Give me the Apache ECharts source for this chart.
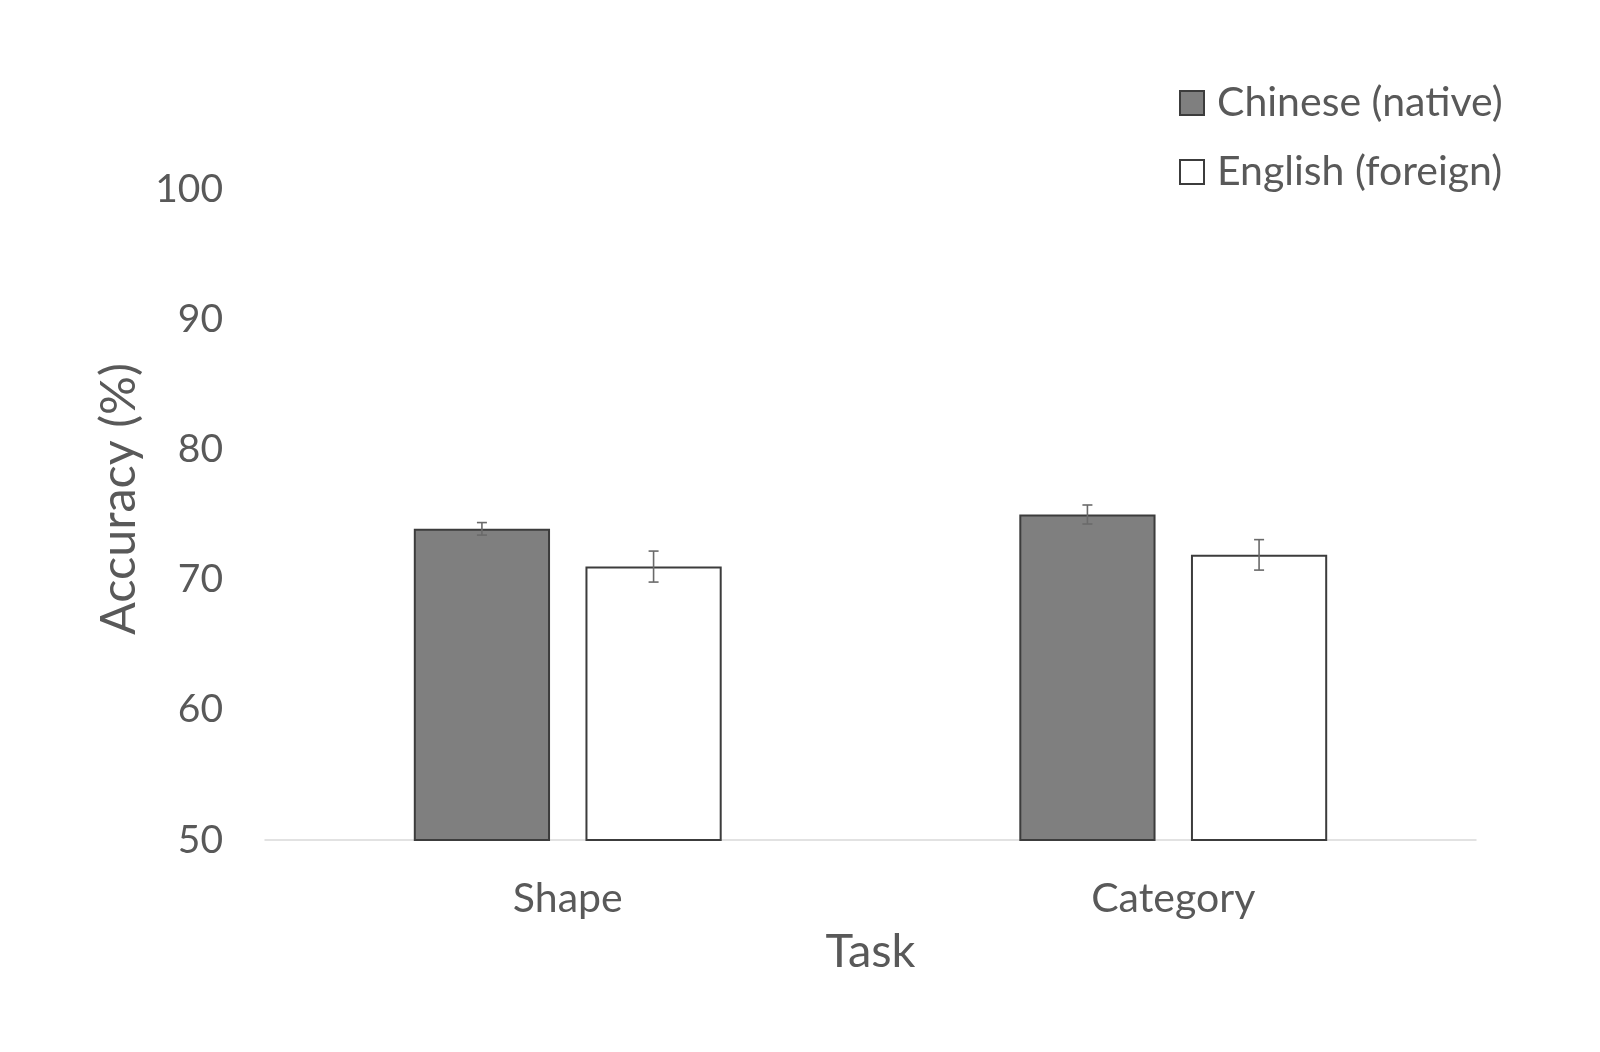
<!DOCTYPE html>
<html>
<head>
<meta charset="utf-8">
<script src="https://cdn.jsdelivr.net/npm/echarts@6/dist/echarts.min.js"></script>
<style>html,body{margin:0;padding:0;background:#fff;}#c{width:1600px;height:1052px;}</style>
</head>
<body>
<div id="c"></div>
<script>
const categories = ['Shape', 'Category'];
const seriesNames = ['Chinese (native)', 'English (foreign)'];
const chineseValues = [73.9, 75.0];
const englishValues = [71.0, 71.9];
const chineseErrors = [0.48, 0.73];
const englishErrors = [1.19, 1.17];
const yTicks = [50, 60, 70, 80, 90, 100];

const BAR_W = 0.225, BAR_GAP = 0.26;
const FONT = 'Lato, "Open Sans", sans-serif';
const TXT = '#595959';

function errSeries(vals, errs, sign) {
  return {
    type: 'custom',
    silent: true,
    z: 5,
    data: vals.map((v, i) => [i, v, errs[i]]),
    renderItem: function (params, api) {
      const i = api.value(0), v = api.value(1), e = api.value(2);
      const band = api.size([1, 0])[0];
      const bw = band * BAR_W;
      const off = sign * (bw + bw * BAR_GAP) / 2;
      const top = api.coord([i, v + e]);
      const bot = api.coord([i, v - e]);
      const x = top[0] + off;
      const cap = 5;
      const st = { stroke: '#6a6a6a', lineWidth: 1.6 };
      return {
        type: 'group',
        children: [
          { type: 'line', shape: { x1: x, y1: top[1], x2: x, y2: bot[1] }, style: st },
          { type: 'line', shape: { x1: x - cap, y1: top[1], x2: x + cap, y2: top[1] }, style: st },
          { type: 'line', shape: { x1: x - cap, y1: bot[1], x2: x + cap, y2: bot[1] }, style: st }
        ]
      };
    }
  };
}

const chart = echarts.init(document.getElementById('c'));
chart.setOption({
  animation: false,
  backgroundColor: '#ffffff',
  textStyle: { fontFamily: FONT },
  grid: { left: 265, right: 124, top: 189, bottom: 212 },
  legend: {
    orient: 'vertical',
    left: 1174,
    top: 76,
    itemWidth: 24,
    itemHeight: 24,
    itemGap: 25,
    icon: 'rect',
    data: seriesNames,
    textStyle: { fontFamily: FONT, fontSize: 41, color: TXT, lineHeight: 44, padding: [0, 0, 0, 8] }
  },
  xAxis: {
    type: 'category',
    data: categories,
    name: 'Task',
    nameLocation: 'middle',
    nameGap: 88,
    nameTextStyle: { fontFamily: FONT, fontSize: 47, color: TXT },
    axisLine: { lineStyle: { color: '#d9d9d9', width: 1.5 } },
    axisTick: { show: false },
    axisLabel: { fontFamily: FONT, fontSize: 41, color: TXT, margin: 38 }
  },
  yAxis: {
    type: 'value',
    min: yTicks[0],
    max: yTicks[yTicks.length - 1],
    interval: 10,
    name: 'Accuracy (%)',
    nameLocation: 'middle',
    nameGap: 118,
    nameTextStyle: { fontFamily: FONT, fontSize: 48.5, color: TXT, padding: [0, 0, 0, 31] },
    axisLine: { show: false },
    axisTick: { show: false },
    splitLine: { show: false },
    axisLabel: { fontFamily: FONT, fontSize: 39, color: TXT, margin: 42 }
  },
  series: [
    {
      name: seriesNames[0],
      type: 'bar',
      data: chineseValues,
      barWidth: (BAR_W * 100) + '%',
      barGap: (BAR_GAP * 100) + '%',
      itemStyle: { color: '#7f7f7f', borderColor: '#3c3c3c', borderWidth: 2 }
    },
    {
      name: seriesNames[1],
      type: 'bar',
      data: englishValues,
      barWidth: (BAR_W * 100) + '%',
      barGap: (BAR_GAP * 100) + '%',
      itemStyle: { color: '#ffffff', borderColor: '#3c3c3c', borderWidth: 2 }
    },
    errSeries(chineseValues, chineseErrors, -1),
    errSeries(englishValues, englishErrors, 1)
  ]
});
</script>
</body>
</html>
